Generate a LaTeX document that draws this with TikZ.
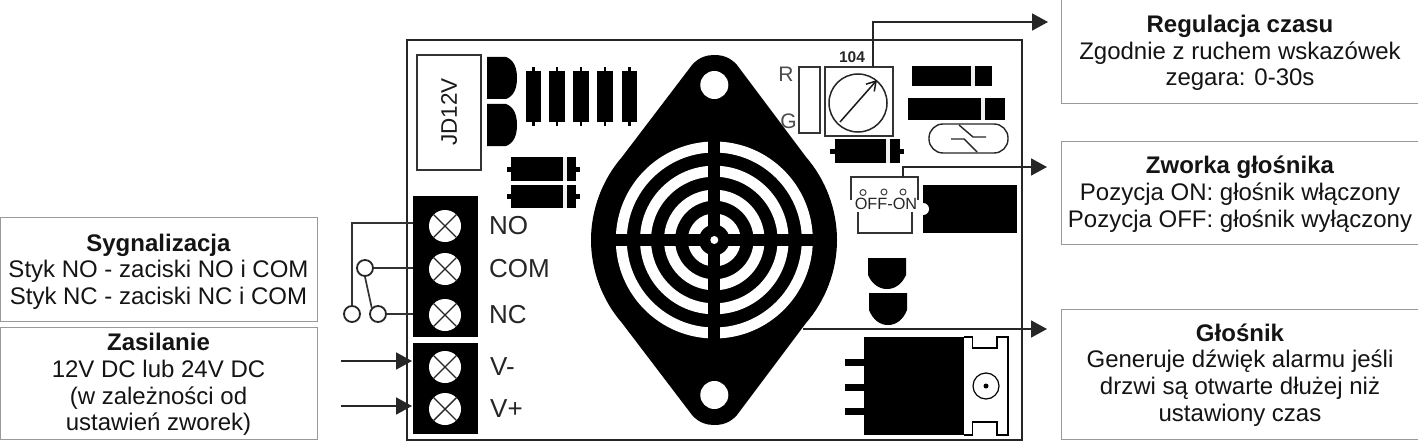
\documentclass[tikz,border=0pt]{standalone}
\usepackage{fontspec}
\setmainfont{Liberation Sans}
\usetikzlibrary{arrows.meta}
\tikzset{
  infobox/.style={draw=black!40,line width=0.8pt,fill=white,minimum width=#1,inner sep=0pt},
  infotext/.style={inner sep=0pt,align=center,font=\fontsize{24}{26.7}\selectfont,text=black!92},
  lead/.style={draw=black!80,line width=1.7pt},
  conn/.style={draw=black!85,line width=1.8pt},
  arrowconn/.style={conn,-{Triangle[length=16pt,width=17pt]}},
  partlabel/.style={inner sep=0pt,font=\fontsize{26}{26}\selectfont,text=black!85,anchor=west},
  thin outline/.style={draw=black!80,line width=1.6pt,fill=white},
  screw/.style={circle,fill=white,minimum size=32pt,inner sep=0pt},
  contact/.style={circle,draw=black!85,line width=1.8pt,fill=white,minimum size=16pt,inner sep=0pt},
}
\newcommand{\screwmark}[2]{%
  \node[screw] (#1) at (#2) {};
  \draw[black!85,line width=1.4pt] (#1.45) -- (#1.225) (#1.135) -- (#1.315);
}
\newcommand{\resistor}[1]{%
  \fill (#1-1.3,67) rectangle (#1+1.3,126);
  \fill (#1-7.8,71) rectangle (#1+7.8,122);
}
\begin{document}
\begin{tikzpicture}[x=1pt,y=-1pt]
\useasboundingbox (0,0) rectangle (1418,441);
\fill[white] (0,0) rectangle (1418,441);
% board
\draw[black!85,line width=2pt] (407,40) rectangle (1022,440);
% relay
\draw[thin outline] (417,55) rectangle (481,170);
\node[rotate=90,inner sep=0pt,font=\fontsize{22.5}{22.5}\selectfont,text=black!90] (relay) at (449,112) {JD12V};
% D shapes
\fill (487,57) -- (506,57) .. controls (514,60) and (517,68) .. (517,78) .. controls (517,88) and (514,96) .. (506,99) -- (487,99) -- cycle;
\fill (487,104) -- (506,104) .. controls (514,107) and (517,115) .. (517,125) .. controls (517,135) and (514,143) .. (506,146) -- (487,146) -- cycle;
% resistors
\resistor{533.5}\resistor{557}\resistor{581}\resistor{605}\resistor{629.5}
% diodes
\fill (507,167) rectangle (580,172);
\fill (511,157) rectangle (576,181);
\fill[black!6] (562.5,157) rectangle (566.5,181);
\fill (507,194) rectangle (580,199);
\fill (511,185) rectangle (576,208);
\fill[black!6] (562.5,185) rectangle (566.5,208);
% terminals
\fill (413,196) rectangle (478,337);
\fill (413,343) rectangle (478,434);
\screwmark{sNO}{445,226}
\screwmark{sCOM}{445,269}
\screwmark{sNC}{445,315}
\screwmark{sVm}{445,367}
\screwmark{sVp}{445,409}
\node[partlabel] (lNO) at (489,226) {NO};
\node[partlabel] (lCOM) at (489,269) {COM};
\node[partlabel] (lNC) at (489,315) {NC};
\node[partlabel] (lVm) at (490,367) {V-};
\node[partlabel] (lVp) at (490,409) {V+};
% R G
\node[inner sep=0pt,font=\fontsize{21}{21}\selectfont,text=black!70] (lR) at (786,74) {R};
\node[inner sep=0pt,font=\fontsize{21}{21}\selectfont,text=black!70] (lG) at (788.5,121.5) {G};
% buzzer
\fill (692,65) .. controls (699,57) and (707,55) .. (714.3,55) .. controls (722,55) and (730,57) .. (737,65)
 -- (806,157) .. controls (826,180) and (837,210) .. (837,240) .. controls (837,270) and (826,300) .. (806,323)
 -- (737,415) .. controls (730,423) and (722,425) .. (714.3,425) .. controls (707,425) and (699,423) .. (692,415)
 -- (622,323) .. controls (602,300) and (591,270) .. (591,240) .. controls (591,210) and (602,180) .. (622,157) -- cycle;
\fill[white] (714.3,85) circle (14);
\fill[white] (714.3,395) circle (14);
\foreach \r in {93,68.8,44.8,21}{\draw[white,line width=11pt] (714.3,240) circle (\r);}
\fill (708.3,130) rectangle (720.3,350);
\fill (604,234) rectangle (824,246);
\fill[white] (714.3,240) circle (4);
% R/G box and pot
\draw[thin outline] (799,67) rectangle (820,133);
\node[thin outline,minimum width=68pt,minimum height=69pt,inner sep=0pt] (pot) at (859,101.5) {};
\node[circle,draw=black!85,line width=1.5pt,minimum size=58pt,inner sep=0pt] (dial) at (858,103) {};
\coordinate (dialA) at (840,122);
\coordinate (dialB) at (877,80);
\draw[black!90,line width=1.5pt,-{Straight Barb[length=9pt,width=11pt]}] (dialA) -- (dialB);
\node[inner sep=0pt,font=\fontsize{15.5}{15.5}\selectfont\bfseries,text=black!85] (l104) at (852,57) {104};
% diode under pot
\fill (830,149) rectangle (904,153.5);
\fill (835,139) rectangle (900,163);
\fill[black!6] (885.5,139) rectangle (889.5,163);
% right components
\fill (912,66) rectangle (992,86);
\fill[black!6] (970.5,66) rectangle (974.5,86);
\fill (908,98) rectangle (1005,120);
\fill[black!6] (980.5,98) rectangle (984.5,120);
\draw[black!85,line width=1.4pt,rounded corners=14pt] (929,124) rectangle (1008,153);
\draw[black!85,line width=1.4pt] (951,139) -- (964,139) -- (977,152);
\draw[black!85,line width=1.4pt] (959,125) -- (973,137) -- (986,137);
% jumper
\coordinate (jumpTop) at (903,177);
\draw[black!80,line width=1.6pt] (851,200) -- (851,177) -- (918,177) -- (918,200);
\draw[black!80,line width=1.6pt] (858,212) -- (858,233) -- (912,233) -- (912,212);
\foreach \x/\y in {863/192.5,884/192,903/192}{\draw[black!75,line width=1pt] (\x,\y) circle (3);}
\node[inner sep=0pt,font=\fontsize{16.3}{16.3}\selectfont,text=black!85] (lOFF) at (886,204) {OFF-ON};
\fill (923,185) rectangle (1017,233);
\fill[white] (923,209) circle (6);
% transistors
\fill (868,258) -- (906,258) -- (906,275) .. controls (902,284) and (895,289) .. (887,289) .. controls (879,289) and (872,284) .. (868,275) -- cycle;
\fill (869,293) -- (907,293) -- (907,310) .. controls (903,320) and (896,325) .. (888,325) .. controls (880,325) and (873,320) .. (869,310) -- cycle;
% regulator
\fill (864,337) rectangle (964,435);
\foreach \y in {362,387,411}{\fill (845,\y-3.5) rectangle (864,\y+3.5);}
\draw[black,line width=1.5pt] (964,337) -- (972.5,337) -- (972.5,348) -- (997,348) -- (997,337) -- (1008,337) -- (1008,435) -- (997,435) -- (997,422) -- (972.5,422) -- (972.5,435) -- (964,435);
\draw[black,line width=1.2pt] (986,386) circle (13);
\fill (986,386) circle (2.5);
% info boxes
\node[infobox=317pt,minimum height=104pt] (bSyg) at (158.5,269) {};
\node[infotext] (tSyg) at (158.5,271.5) {\textbf{Sygnalizacja}\\Styk NO - zaciski NO i COM\\Styk NC - zaciski NC i COM};
\node[infobox=317pt,minimum height=112pt] (bZas) at (158.5,383) {};
\node[infotext] (tZas) at (158.5,384.5) {\textbf{Zasilanie}\\12V DC lub 24V DC\\(w zależności od\\ustawień zworek)};
\node[infobox=358pt,minimum height=104pt] (bReg) at (1240,51) {};
\node[infotext] (tReg) at (1240,53) {\textbf{Regulacja czasu}\\Zgodnie z ruchem wskazówek\\zegara: 0-30s};
\node[infobox=358pt,minimum height=103pt] (bZwo) at (1240,192.5) {};
\node[infotext] (tZwo) at (1240,194) {\textbf{Zworka głośnika}\\Pozycja ON: głośnik włączony\\Pozycja OFF: głośnik wyłączony};
\node[infobox=358pt,minimum height=130pt] (bGlo) at (1240,374) {};
\node[infotext] (tGlo) at (1240,375) {\textbf{Głośnik}\\Generuje dźwięk alarmu jeśli\\drzwi są otwarte dłużej niż\\ustawiony czas};
% relay contacts
\node[contact] (cCOM) at (365,268) {};
\node[contact] (cNO) at (352,314) {};
\node[contact] (cNC) at (378,314) {};
\coordinate (tNO) at (413,223);
\coordinate (tCOM) at (413,268);
\coordinate (tNC) at (413,314);
\draw[lead] (tNO) -- (352,223) -- (cNO.north);
\draw[lead] (cCOM) -- (tCOM);
\draw[lead] (cNC) -- (tNC);
\draw[lead] (cCOM.south) -- (cNC.north west);
% power arrows
\coordinate (pm0) at (341,361);
\coordinate (pm1) at (412,361);
\coordinate (pp0) at (341,406);
\coordinate (pp1) at (412,406);
\draw[arrowconn] (pm0) -- (pm1);
\draw[arrowconn] (pp0) -- (pp1);
% output arrows
\coordinate (potTop) at (873,67);
\coordinate (a1) at (1048,22);
\coordinate (a2) at (1047,167);
\coordinate (buzOut) at (803,329);
\coordinate (a3) at (1047,329);
\draw[arrowconn] (potTop) -- (873,22) -- (a1);
\draw[arrowconn] (jumpTop) -- (903,167) -- (a2);
\draw[arrowconn] (buzOut) -- (a3);
\end{tikzpicture}
\end{document}
